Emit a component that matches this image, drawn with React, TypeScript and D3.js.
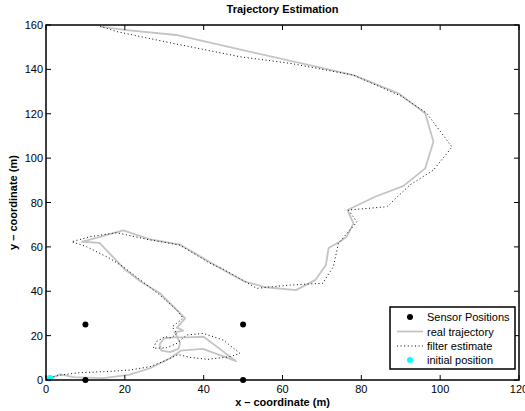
import React from "react";
import * as d3 from "d3";

const xTicks = [0, 20, 40, 60, 80, 100, 120];
const yTicks = [0, 20, 40, 60, 80, 100, 120, 140, 160];

const sensorX = [10, 50, 10, 50];
const sensorY = [25, 25, 0, 0];
const initialPos = [1, 0.8];

const realX = [1, 3.6, 7, 14.5, 21, 26.4, 31.5, 34.2, 39.8, 48.2, 40, 36, 33, 30, 28.8, 29.3, 31.5, 33.6, 34, 33.3, 32.6, 34.8, 33.2, 35.3, 28.9, 23.9, 19.6, 13.6, 9.1, 19.6, 26.2, 34, 40, 45, 50.5, 55.8, 63.4, 68.3, 71, 71.7, 74.5, 76.3, 78, 76.5, 83.5, 90.7, 96.2, 98.3, 96.2, 89.4, 78, 33, 20.5, 13.7];
const realY = [0.7, 2.5, 1.3, 0.8, 2.3, 5.3, 9.8, 13.2, 14, 8.5, 19.5, 19.2, 19.3, 18.8, 16, 13.2, 12.6, 14, 16.5, 19.5, 21.5, 22.3, 23.6, 27.8, 39.1, 44.5, 50.5, 61.8, 62.3, 67.4, 63.5, 61, 54.8, 49.6, 44.3, 41.8, 40.5, 45, 51.8, 59.5, 62.3, 64.6, 70.6, 76.6, 82.6, 87.5, 95.4, 107.4, 120.2, 129.2, 137.4, 155.5, 157.7, 159.3];

const filtX = [1, 3.5, 8.6, 15.4, 21.3, 26.4, 30.6, 33.5, 36.5, 41, 46.7, 49.2, 45, 39.9, 35.7, 33.2, 30.5, 27.2, 28, 30.2, 31.8, 33.2, 32, 34.8, 33.2, 28.9, 19.6, 16.2, 10.3, 6.5, 11.2, 17.9, 25.6, 34, 41.6, 45, 53.5, 56, 62, 70.2, 72.9, 74.2, 78.9, 76.7, 86.5, 92.4, 98.3, 103, 96.6, 90.3, 78, 62, 49.2, 32.3, 18, 13.7];
const filtY = [1, 2.2, 3.3, 3.8, 4.5, 6, 9, 11.5, 10.2, 9.3, 10.5, 12, 18, 21, 20.3, 16.5, 14.5, 14.3, 17.3, 19.5, 19, 21, 24, 27.8, 31.5, 38.3, 51, 54.8, 60.1, 62.3, 64.6, 66.4, 63.4, 60.8, 52.6, 49.9, 41.3, 41.8, 42.8, 43.6, 51.1, 61.6, 71.3, 76.6, 78.1, 88, 94.6, 105, 120.2, 127.8, 137.4, 142.7, 145.7, 151.7, 157, 159.5];

const legendLabels = ["Sensor Positions", "real trajectory", "filter estimate", "initial position"];

const W = 525;
const H = 411;
const left = 46;
const right = 519;
const top = 25;
const bottom = 380;
const font = "'Liberation Sans', Arial, Helvetica, sans-serif";

export default function App() {
  const x = d3.scaleLinear().domain([0, 120]).range([left, right]);
  const y = d3.scaleLinear().domain([0, 160]).range([bottom, top]);
  const line = d3
    .line<[number, number]>()
    .x((d) => x(d[0]))
    .y((d) => y(d[1]));
  const realPts: [number, number][] = realX.map((v, i) => [v, realY[i]]);
  const filtPts: [number, number][] = filtX.map((v, i) => [v, filtY[i]]);
  const tickLen = 5;

  const legendX = 390;
  const legendY = 307;
  const legendW = 125;
  const legendH = 62;
  const rowY = [317, 331.5, 346, 360];
  const sampleX0 = 397;
  const sampleX1 = 423;
  const textX = 427;

  return (
    <svg
      width={W}
      height={H}
      style={{ position: "absolute", left: 0, top: 0, background: "#fff" }}
      fontFamily={font}
    >
      <rect x={0} y={0} width={W} height={H} fill="#fff" />
      <defs>
        <clipPath id="plotclip">
          <rect x={left} y={top} width={right - left} height={bottom - top} />
        </clipPath>
      </defs>

      <g clipPath="url(#plotclip)">
        <path d={line(realPts) || ""} fill="none" stroke="#c4c4c4" strokeWidth={1.8} strokeLinejoin="round" />
        <path d={line(filtPts) || ""} fill="none" stroke="#000" strokeWidth={1} strokeDasharray="1,2.6" />
      </g>

      {sensorX.map((sx, i) => (
        <circle key={i} cx={x(sx)} cy={y(sensorY[i])} r={3} fill="#000" />
      ))}
      <circle cx={x(initialPos[0])} cy={y(initialPos[1])} r={3.2} fill="#00ffff" />

      <rect x={left} y={top} width={right - left} height={bottom - top} fill="none" stroke="#000" strokeWidth={1.5} />

      {xTicks.map((t) => (
        <g key={"x" + t}>
          <line x1={x(t)} x2={x(t)} y1={bottom} y2={bottom - tickLen} stroke="#000" strokeWidth={1} />
          <line x1={x(t)} x2={x(t)} y1={top} y2={top + tickLen} stroke="#000" strokeWidth={1} />
          <text x={x(t)} y={bottom + 13} fontSize={11} textAnchor="middle" fill="#000">
            {t}
          </text>
        </g>
      ))}
      {yTicks.map((t) => (
        <g key={"y" + t}>
          <line x1={left} x2={left + tickLen} y1={y(t)} y2={y(t)} stroke="#000" strokeWidth={1} />
          <line x1={right} x2={right - tickLen} y1={y(t)} y2={y(t)} stroke="#000" strokeWidth={1} />
          <text x={left - 3} y={y(t) + 4} fontSize={11} textAnchor="end" fill="#000">
            {t}
          </text>
        </g>
      ))}

      <text x={(left + right) / 2} y={13} fontSize={11} fontWeight="bold" textAnchor="middle" fill="#000">
        Trajectory Estimation
      </text>
      <text x={(left + right) / 2} y={406} fontSize={11} fontWeight="bold" textAnchor="middle" fill="#000">
        x – coordinate (m)
      </text>
      <text
        transform={`translate(17, ${(top + bottom) / 2}) rotate(-90)`}
        fontSize={11}
        fontWeight="bold"
        textAnchor="middle"
        fill="#000"
      >
        y – coordinate (m)
      </text>

      <rect x={legendX} y={legendY} width={legendW} height={legendH} fill="#fff" stroke="#000" strokeWidth={1.5} />
      <circle cx={(sampleX0 + sampleX1) / 2} cy={rowY[0]} r={3} fill="#000" />
      <line x1={sampleX0} x2={sampleX1} y1={rowY[1]} y2={rowY[1]} stroke="#c4c4c4" strokeWidth={1.8} />
      <line x1={sampleX0} x2={sampleX1} y1={rowY[2]} y2={rowY[2]} stroke="#000" strokeWidth={1} strokeDasharray="1,2.6" />
      <circle cx={(sampleX0 + sampleX1) / 2} cy={rowY[3]} r={3} fill="#00ffff" />
      {legendLabels.map((s, i) => (
        <text key={s} x={textX} y={rowY[i] + 4} fontSize={11} fill="#000">
          {s}
        </text>
      ))}
    </svg>
  );
}
